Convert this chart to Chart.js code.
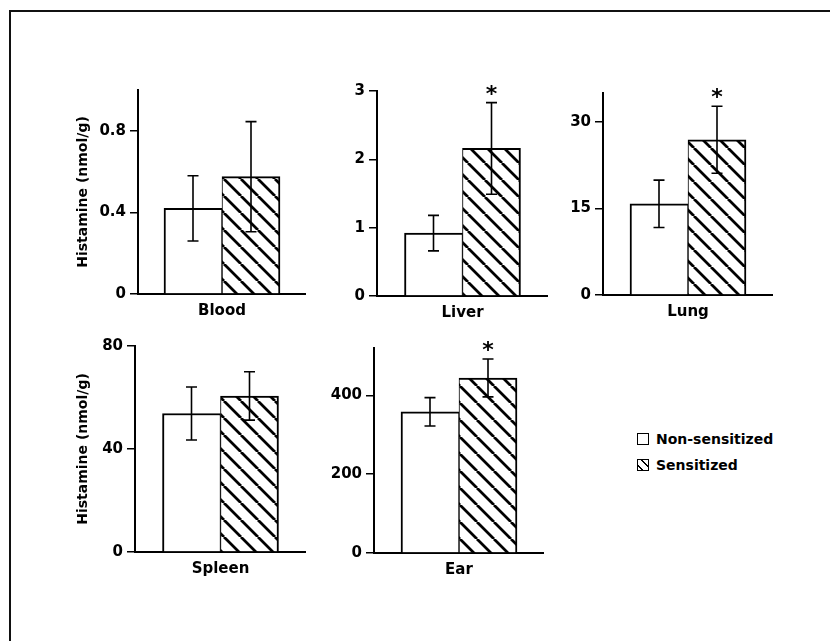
<!DOCTYPE html>
<html>
<head>
<meta charset="utf-8">
<script src="https://cdn.jsdelivr.net/npm/chart.js@4.4.1/dist/chart.umd.min.js"></script>
<style>
  html, body { margin: 0; padding: 0; background: #fff; }
  body { width: 830px; height: 641px; position: relative; overflow: hidden; font-family: 'DejaVu Sans', sans-serif; }
  .frame { position: absolute; left: 9px; top: 10px; right: 0; bottom: 0; border-top: 2px solid #111; border-left: 2px solid #111; }
  canvas { position: absolute; }
  .legend { position: absolute; left: 637px; top: 426px; font-weight: bold; font-size: 14px; color: #000; }
  .legend div { display: flex; align-items: center; height: 26px; }
  .legend .box { width: 10px; height: 10px; border: 1.5px solid #000; margin-right: 7px; background: #fff; }
  .legend .hatch { background: repeating-linear-gradient(45deg, #fff 0 2.5px, #000 2.5px 4px, #fff 4px 6px); }
</style>
</head>
<body>
<div class="frame"></div>
<div class="legend">
  <div><span class="box"></span>Non-sensitized</div>
  <div><span class="box hatch"></span>Sensitized</div>
</div>
<script>
// values (mean and error bar half-length)
const organs = ['Blood', 'Liver', 'Lung', 'Spleen', 'Ear'];
const seriesNames = ['Non-sensitized', 'Sensitized'];
const nonSensitized = [0.42, 0.92, 15.8, 53.8, 358];
const nonSensitizedErr = [0.16, 0.26, 4.1, 10.3, 36];
const sensitized = [0.575, 2.16, 26.9, 60.6, 444];
const sensitizedErr = [0.27, 0.67, 5.8, 9.4, 48];
const significant = [false, true, true, false, true];
const yMax = [1.0, 3, 35, 80, 520];
const yTicks = [[0, 0.4, 0.8], [0, 1, 2, 3], [0, 15, 30], [0, 40, 80], [0, 200, 400]];
const yTitle = 'Histamine (nmol/g)';

// where each plot area sits on the page
const boxes = [
  { left: 138, top: 90, right: 306, bottom: 294, axisW: 67, title: true },
  { left: 377, top: 91, right: 548, bottom: 296, axisW: 45 },
  { left: 603, top: 93, right: 773, bottom: 295, axisW: 45 },
  { left: 135, top: 346, right: 306, bottom: 552, axisW: 64, title: true },
  { left: 374, top: 348, right: 544, bottom: 553, axisW: 50 }
];
const padTop = 30, xAxisH = 35;
const fontFamily = "'DejaVu Sans', sans-serif";

Chart.defaults.font.family = fontFamily;
Chart.defaults.color = '#000';

function hatchPattern() {
  const s = 17;
  const c = document.createElement('canvas');
  c.width = s; c.height = s;
  const g = c.getContext('2d');
  g.fillStyle = '#fff';
  g.fillRect(0, 0, s, s);
  g.strokeStyle = '#000';
  g.lineWidth = 2.8;
  g.beginPath();
  [-s, 0, s].forEach(dx => { g.moveTo(dx, 0); g.lineTo(dx + s, s); });
  g.stroke();
  return g.createPattern(c, 'repeat');
}

const errorBars = {
  id: 'errorBars',
  afterDatasetsDraw(chart, args, opts) {
    const { ctx } = chart;
    const y = chart.scales.y;
    let starAt = null;
    ctx.save();
    ctx.strokeStyle = '#000';
    ctx.lineWidth = 1.6;
    chart.data.datasets.forEach((ds, i) => {
      const bar = chart.getDatasetMeta(i).data[0];
      const v = ds.data[0], e = ds.errors[0];
      const top = y.getPixelForValue(v + e);
      const bot = y.getPixelForValue(v - e);
      ctx.beginPath();
      ctx.moveTo(bar.x, top); ctx.lineTo(bar.x, bot);
      ctx.moveTo(bar.x - 5.5, top); ctx.lineTo(bar.x + 5.5, top);
      ctx.moveTo(bar.x - 5.5, bot); ctx.lineTo(bar.x + 5.5, bot);
      ctx.stroke();
      if (i === 1) starAt = { x: bar.x, y: top };
    });
    if (opts.star && starAt) {
      ctx.font = 'bold 22px ' + fontFamily;
      ctx.fillStyle = '#000';
      ctx.textAlign = 'center';
      ctx.textBaseline = 'alphabetic';
      const m = ctx.measureText('*');
      const cy = starAt.y - 13;
      ctx.fillText('*', starAt.x, cy + (m.actualBoundingBoxAscent - m.actualBoundingBoxDescent) / 2);
    }
    ctx.restore();
  }
};

const hatch = hatchPattern();

organs.forEach((organ, k) => {
  const b = boxes[k];
  const cv = document.createElement('canvas');
  const cLeft = b.left - b.axisW, cTop = b.top - padTop;
  cv.width = b.right - cLeft;
  cv.height = b.bottom + xAxisH - cTop;
  cv.style.left = cLeft + 'px';
  cv.style.top = cTop + 'px';
  document.body.appendChild(cv);

  new Chart(cv, {
    type: 'bar',
    data: {
      labels: [organ],
      datasets: [
        {
          label: seriesNames[0],
          data: [nonSensitized[k]],
          errors: [nonSensitizedErr[k]],
          backgroundColor: '#fff',
          borderColor: '#000',
          borderWidth: { top: 2, left: 2, right: 1, bottom: 0 },
          borderSkipped: false
        },
        {
          label: seriesNames[1],
          data: [sensitized[k]],
          errors: [sensitizedErr[k]],
          backgroundColor: hatch,
          borderColor: '#000',
          borderWidth: { top: 2, left: 1, right: 2, bottom: 0 },
          borderSkipped: false
        }
      ]
    },
    options: {
      responsive: false,
      animation: false,
      devicePixelRatio: 1,
      layout: { padding: { top: padTop, left: 0, right: 0, bottom: 0 } },
      datasets: { bar: { barThickness: 58 } },
      plugins: {
        legend: { display: false },
        tooltip: { enabled: false },
        errorBars: { star: significant[k] }
      },
      scales: {
        x: {
          grid: { display: false },
          border: { display: true, color: '#000', width: 2 },
          ticks: { color: '#000', font: { size: 15, weight: 'bold' }, padding: 0 },
          afterFit: s => { s.height = xAxisH; }
        },
        y: {
          min: 0,
          max: yMax[k],
          afterBuildTicks: s => { s.ticks = yTicks[k].map(v => ({ value: v })); },
          grid: { drawOnChartArea: false, color: '#000', lineWidth: 1.5, tickLength: 8 },
          border: { color: '#000', width: 2 },
          ticks: { color: '#000', font: { size: 15, weight: 'bold' }, padding: 4 },
          title: { display: !!b.title, text: yTitle, color: '#000', font: { size: 14, weight: 'bold' } },
          afterFit: s => { s.width = b.axisW; }
        }
      }
    },
    plugins: [errorBars]
  });
});
</script>
</body>
</html>
